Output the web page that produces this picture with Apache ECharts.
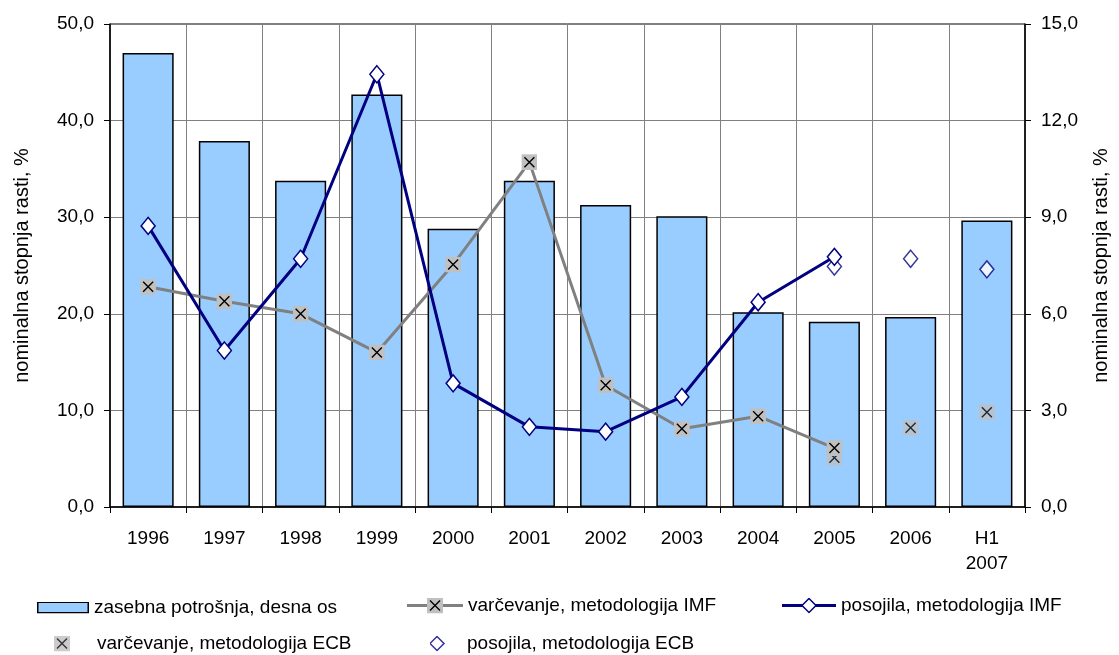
<!DOCTYPE html>
<html>
<head>
<meta charset="utf-8">
<script src="https://cdn.jsdelivr.net/npm/echarts@6/dist/echarts.min.js"></script>
<style>
  html, body { margin: 0; padding: 0; background: #fff; }
  #chart { width: 1119px; height: 655px; }
</style>
</head>
<body>
<div id="chart"></div>
<script>
// podatki
const categories = ['1996', '1997', '1998', '1999', '2000', '2001', '2002', '2003', '2004', '2005', '2006', 'H1\n2007'];
// zasebna potrošnja (desna os)
const potrosnja = [14.1, 11.37, 10.13, 12.81, 8.64, 10.13, 9.38, 9.03, 6.05, 5.75, 5.9, 8.9];
// leva os
const varcevanjeIMF = [22.8, 21.3, 20.0, 16.0, 25.1, 35.7, 12.6, 8.1, 9.4, 6.1, null, null];
const posojilaIMF = [29.1, 16.2, 25.7, 44.8, 12.8, 8.3, 7.8, 11.4, 21.2, 25.9, null, null];
const varcevanjeECB = [null, null, null, null, null, null, null, null, null, 5.1, 8.2, 9.8];
const posojilaECB = [null, null, null, null, null, null, null, null, null, 24.9, 25.7, 24.6];
const leftTicks = [0, 50, 10];
const rightTicks = [0, 15, 3];

const FONT = "'Liberation Sans', Arial, sans-serif";
const NAVY = '#000080';
const GREY = '#808080';

const img = s => 'image://data:image/svg+xml;charset=utf-8,' + encodeURIComponent(s);
const xBox = (x) => `<rect x="${x}" y="0" width="16" height="16" fill="#c0c0c0"/><path d="M${x + 3} 3L${x + 13} 13M${x + 13} 3L${x + 3} 13" stroke="#000" stroke-width="1.4"/>`;
const diamond = (cx) => `<polygon points="${cx},1 ${cx + 7},8 ${cx},15 ${cx - 7},8" fill="#fff" stroke="${NAVY}" stroke-width="1.5"/>`;
const svg = (w, h, inner) => `<svg xmlns="http://www.w3.org/2000/svg" width="${w}" height="${h}" viewBox="0 0 ${w} ${h}">${inner}</svg>`;

const xMarker = img(svg(16, 16, xBox(0)));
const icons = {
  bar: img(svg(52, 12, '<rect x="0.75" y="0.75" width="50.5" height="10.5" fill="#99ccff" stroke="#000" stroke-width="1.5"/>')),
  varIMF: img(svg(56, 16, `<line x1="0" y1="8" x2="56" y2="8" stroke="${GREY}" stroke-width="3"/>` + xBox(20))),
  posIMF: img(svg(54, 16, `<line x1="0" y1="8" x2="54" y2="8" stroke="${NAVY}" stroke-width="3"/>` + diamond(27))),
  varECB: img(svg(38, 16, xBox(0))),
  posECB: img(svg(32, 16, diamond(7)))
};

const fmt = v => v.toFixed(1).replace('.', ',');
const txt = { fontFamily: FONT, fontSize: 19, color: '#000' };

function legendAt(name, icon, left, top, w, h) {
  return {
    data: [{ name: name, icon: icon }],
    left: left, top: top, padding: 0,
    itemWidth: w, itemHeight: h,
    selectedMode: false,
    textStyle: txt
  };
}

const chart = echarts.init(document.getElementById('chart'));
chart.setOption({
  animation: false,
  textStyle: { fontFamily: FONT },
  grid: {
    left: 110, right: 88, top: 24, bottom: 148,
    show: true, borderColor: '#000', borderWidth: 1
  },
  legend: [
    legendAt('zasebna potrošnja, desna os', icons.bar, 37, 598, 52, 12),
    legendAt('varčevanje, metodologija IMF', icons.varIMF, 407, 596, 56, 16),
    legendAt('posojila, metodologija IMF', icons.posIMF, 782, 596, 54, 16),
    legendAt('varčevanje, metodologija ECB', icons.varECB, 54, 634, 38, 16),
    legendAt('posojila, metodologija ECB', icons.posECB, 430, 634, 32, 16)
  ],
  xAxis: {
    type: 'category',
    data: categories,
    axisLine: { lineStyle: { color: '#000', width: 1.5 } },
    axisTick: { show: true, length: 6, lineStyle: { color: '#000' } },
    axisLabel: { ...txt, margin: 19, lineHeight: 25 },
    splitLine: { show: true, lineStyle: { color: GREY, width: 1 } }
  },
  yAxis: [
    {
      type: 'value',
      min: leftTicks[0], max: leftTicks[1], interval: leftTicks[2],
      name: 'nominalna stopnja rasti, %',
      nameLocation: 'middle', nameGap: 78, nameRotate: 90,
      nameTextStyle: { ...txt, fontSize: 20 },
      axisLine: { show: true, lineStyle: { color: '#000', width: 1.5 } },
      axisTick: { show: true, length: 6, lineStyle: { color: '#000' } },
      axisLabel: { ...txt, margin: 16, formatter: fmt },
      splitLine: { show: true, lineStyle: { color: GREY, width: 1 } }
    },
    {
      type: 'value',
      position: 'right',
      min: rightTicks[0], max: rightTicks[1], interval: rightTicks[2],
      name: 'nominalna stopnja rasti, %',
      nameLocation: 'middle', nameGap: 66, nameRotate: 90,
      nameTextStyle: { ...txt, fontSize: 20 },
      axisLine: { show: true, lineStyle: { color: '#000', width: 1.5 } },
      axisTick: { show: true, length: 6, lineStyle: { color: '#000' } },
      axisLabel: { ...txt, margin: 16, formatter: fmt },
      splitLine: { show: false }
    }
  ],
  series: [
    {
      name: 'zasebna potrošnja, desna os',
      type: 'bar',
      yAxisIndex: 1,
      data: potrosnja,
      barCategoryGap: '33%',
      itemStyle: { color: '#99ccff', borderColor: '#000', borderWidth: 1.5 },
      emphasis: { disabled: true }
    },
    {
      name: 'varčevanje, metodologija IMF',
      type: 'line',
      yAxisIndex: 0,
      data: varcevanjeIMF,
      symbol: xMarker, symbolSize: 16,
      lineStyle: { color: GREY, width: 3 },
      itemStyle: { color: GREY },
      emphasis: { disabled: true }
    },
    {
      name: 'posojila, metodologija IMF',
      type: 'line',
      yAxisIndex: 0,
      data: posojilaIMF,
      symbol: 'diamond', symbolSize: [14, 17],
      lineStyle: { color: NAVY, width: 3 },
      itemStyle: { color: '#fff', borderColor: NAVY, borderWidth: 1.5 },
      emphasis: { disabled: true }
    },
    {
      name: 'varčevanje, metodologija ECB',
      type: 'scatter',
      yAxisIndex: 0,
      data: varcevanjeECB,
      symbol: xMarker, symbolSize: 16,
      itemStyle: { color: GREY },
      emphasis: { disabled: true }
    },
    {
      name: 'posojila, metodologija ECB',
      type: 'scatter',
      yAxisIndex: 0,
      data: posojilaECB,
      symbol: 'diamond', symbolSize: [14, 17],
      itemStyle: { color: '#fff', borderColor: NAVY, borderWidth: 1.5 },
      emphasis: { disabled: true }
    }
  ]
});
</script>
</body>
</html>
